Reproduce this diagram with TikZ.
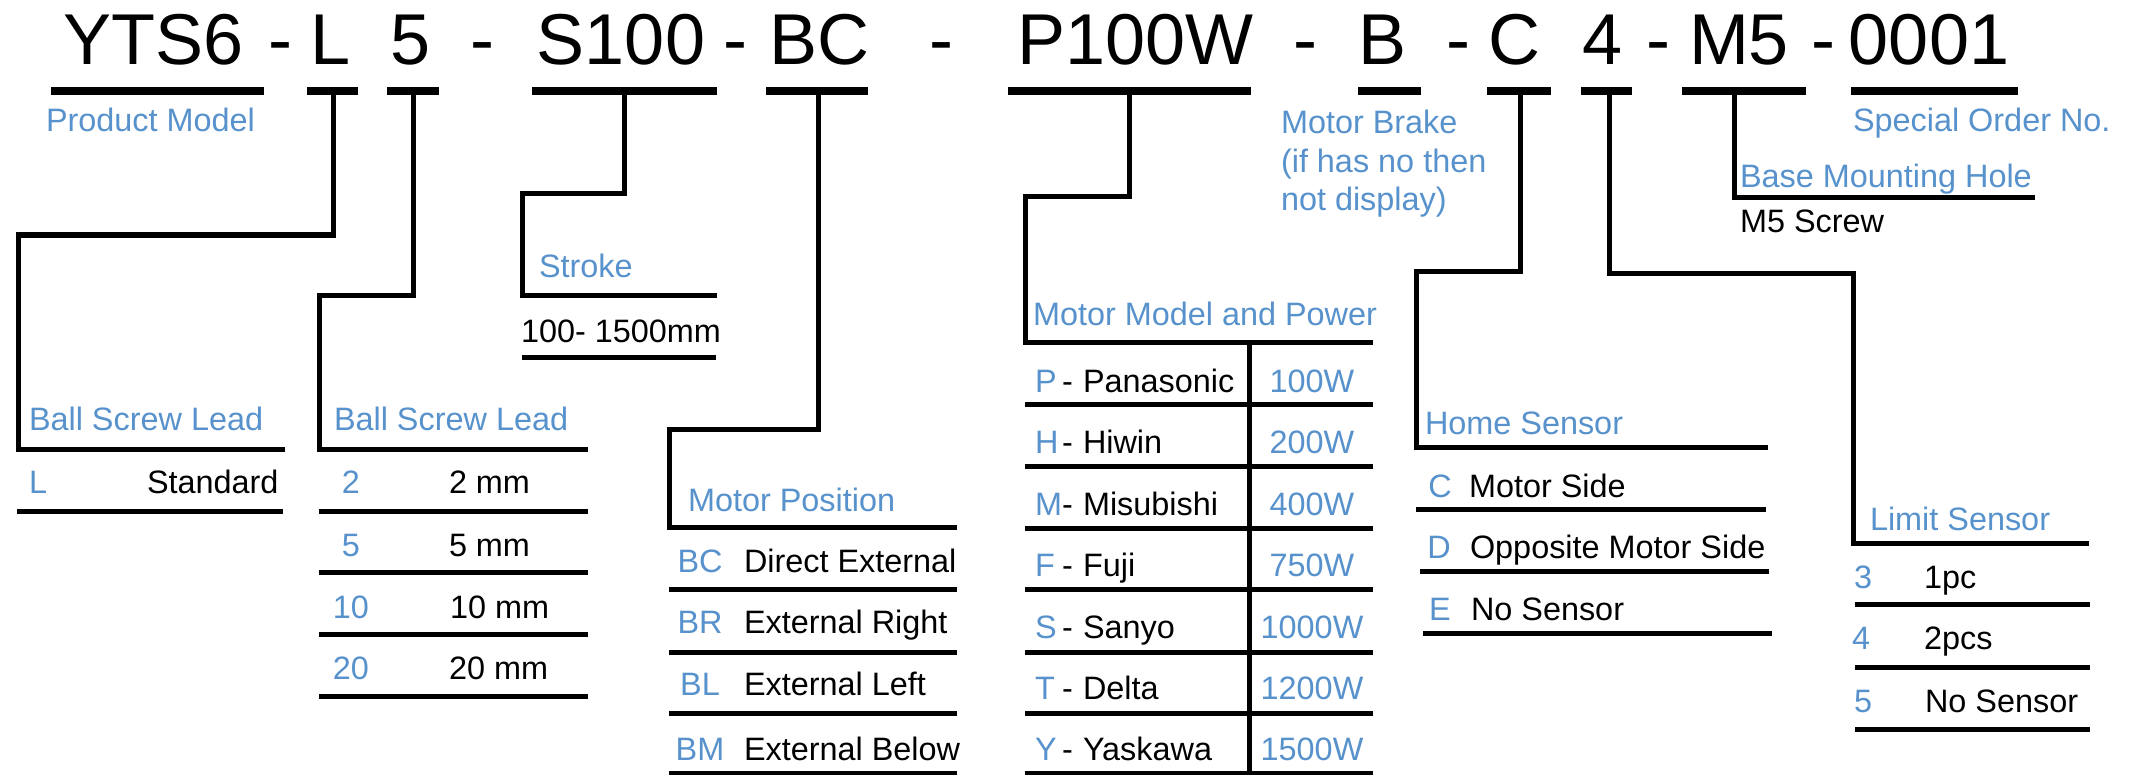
\documentclass[tikz,border=0pt]{standalone}
\usepackage{fontspec}
\setmainfont{Liberation Sans}
\definecolor{lblue}{RGB}{88,146,204}
\begin{document}
\begin{tikzpicture}[x=0.5pt,y=-0.5pt,
  bar/.style={line width=4pt},
  conn/.style={line width=2.5pt,line join=miter},
  rule/.style={line width=2.5pt},
  big/.style={font=\fontsize{36}{40}\selectfont,inner sep=0,outer sep=0,anchor=base},
  hdr/.style={font=\fontsize{16.2}{19}\selectfont,text=lblue,inner sep=0,outer sep=0,anchor=base west},
  codew/.style={font=\fontsize{16.2}{19}\selectfont,text=lblue,inner sep=0,outer sep=0,anchor=base west},
  codec/.style={font=\fontsize{16.2}{19}\selectfont,text=lblue,inner sep=0,outer sep=0,anchor=base},
  txt/.style={font=\fontsize{16.2}{19}\selectfont,text=black,inner sep=0,outer sep=0,anchor=base west}]
\path[use as bounding box,fill=white] (0,0) rectangle (2139,775);

% ---------- title ----------
\node[big] (tY) at (153.5,65) {YTS6};
\node[big] (d1) at (280,65) {-};
\node[big] (tL) at (331,65) {L};
\node[big] (t5) at (411,65) {5};
\node[big] (d2) at (482,65) {-};
\node[big] (tS) at (621,65) {S100};
\node[big] (d3) at (735,65) {-};
\node[big] (tBC) at (819,65) {BC};
\node[big] (d4) at (941,65) {-};
\node[big] (tP) at (1135.5,65) {P100W};
\node[big] (d5) at (1305,65) {-};
\node[big] (tB) at (1382,65) {B};
\node[big] (d6) at (1458,65) {-};
\node[big] (tC) at (1514,65) {C};
\node[big] (t4) at (1602,65) {4};
\node[big] (d7) at (1658,65) {-};
\node[big] (tM) at (1739,65) {M5};
\node[big] (d8) at (1823,65) {-};
\node[big] (t0) at (1929,65) {0001};

% ---------- bars ----------
\draw[bar] (51,91) -- (264,91);
\draw[bar] (307,91) -- (358,91);
\draw[bar] (387,91) -- (439,91);
\draw[bar] (532,91) -- (717,91);
\draw[bar] (766,91) -- (868,91);
\draw[bar] (1008,91) -- (1251,91);
\draw[bar] (1358,91) -- (1421,91);
\draw[bar] (1487,91) -- (1551,91);
\draw[bar] (1581,91) -- (1632,91);
\draw[bar] (1682,91) -- (1806,91);
\draw[bar] (1851,91) -- (2018,91);

\coordinate (bL) at (333,91);
\coordinate (b5) at (413,91);
\coordinate (bS) at (624,91);
\coordinate (bBC) at (818,91);
\coordinate (bP) at (1129,91);
\coordinate (bC) at (1520,91);
\coordinate (b4) at (1609,91);
\coordinate (bM) at (1734,91);

% ---------- free labels ----------
\node[hdr] (pm) at (46,132) {Product Model};
\node[hdr] (so) at (1853,132) {Special Order No.};
\node[hdr] (mb1) at (1281,134) {Motor Brake};
\node[hdr] (mb2) at (1281,173) {(if has no then};
\node[hdr] (mb3) at (1281,211) {not display)};

% ---------- L : ball screw lead ----------
\coordinate (hL) at (285,449);
\draw[conn] (bL) -- (333,235) -- (18,235) -- (18,449) -- (hL);
\node[hdr] (bsl1) at (29,430) {Ball Screw Lead};
\node[codew] (cL) at (29,493) {L};
\node[txt] (vL) at (147,493) {Standard};
\draw[rule] (17,511) -- (283,511);

% ---------- 5 : ball screw lead ----------
\coordinate (h5) at (588,449);
\draw[conn] (b5) -- (413,295) -- (319,295) -- (319,449) -- (h5);
\node[hdr] (bsl2) at (334,430) {Ball Screw Lead};
\node[codec] (c2) at (351,493) {2};
\node[txt] (v2) at (449,493) {2 mm};
\node[codec] (c5) at (351,556) {5};
\node[txt] (v5) at (449,556) {5 mm};
\node[codec] (c10) at (351,618) {10};
\node[txt] (v10) at (450,618) {10 mm};
\node[codec] (c20) at (351,679) {20};
\node[txt] (v20) at (449,679) {20 mm};
\foreach \y in {511,572,634,696} \draw[rule] (319,\y) -- (588,\y);

% ---------- S100 : stroke ----------
\coordinate (hS) at (717,295);
\draw[conn] (bS) -- (624,194) -- (522,194) -- (522,295) -- (hS);
\node[hdr] (st) at (539,278) {Stroke};
\node[txt] (vst) at (521,342) {100- 1500mm};
\draw[rule] (522,357) -- (716,357);

% ---------- BC : motor position ----------
\coordinate (hBC) at (957,527);
\draw[conn] (bBC) -- (818,429) -- (669,429) -- (669,527) -- (hBC);
\node[hdr] (mp) at (688,511) {Motor Position};
\node[codec] (cBC) at (700,572) {BC};
\node[txt] (vBC) at (744,572) {Direct External};
\node[codec] (cBR) at (700,633) {BR};
\node[txt] (vBR) at (744,633) {External Right};
\node[codec] (cBL) at (700,695) {BL};
\node[txt] (vBL) at (744,695) {External Left};
\node[codec] (cBM) at (700,760) {BM};
\node[txt] (vBM) at (744,760) {External Below};
\foreach \y in {589,652,713,773} \draw[rule] (669,\y) -- (957,\y);

% ---------- P100W : motor model and power ----------
\coordinate (hP) at (1373,342);
\draw[conn] (bP) -- (1129,197) -- (1025,197) -- (1025,342) -- (hP);
\node[hdr] (mm) at (1033,325) {Motor Model and Power};
\foreach \y in {404,466,528,589,652,713,773} \draw[rule] (1025,\y) -- (1373,\y);
\draw[rule] (1249,342) -- (1249,775);
\foreach \c/\n/\p/\y [count=\i] in {P/Panasonic/100W/392,H/Hiwin/200W/453,M/Misubishi/400W/515,F/Fuji/750W/576,S/Sanyo/1000W/638,T/Delta/1200W/699,Y/Yaskawa/1500W/760}{
  \node[codew] (mc\i) at (1035,\y) {\c};
  \node[txt] (md\i) at (1062,\y) {-};
  \node[txt] (mn\i) at (1083,\y) {\n};
  \node[codec] (mw\i) at (1312,\y) {\p};
}

% ---------- C : home sensor ----------
\coordinate (hC) at (1768,447);
\draw[conn] (bC) -- (1520,271) -- (1416,271) -- (1416,447) -- (hC);
\node[hdr] (hs) at (1425,434) {Home Sensor};
\node[codec] (cC) at (1440,497) {C};
\node[txt] (vC) at (1469,497) {Motor Side};
\node[codec] (cD) at (1439,558) {D};
\node[txt] (vD) at (1470,558) {Opposite Motor Side};
\node[codec] (cE) at (1440,620) {E};
\node[txt] (vE) at (1471,620) {No Sensor};
\draw[rule] (1416,509) -- (1766,509);
\draw[rule] (1420,571) -- (1769,571);
\draw[rule] (1423,633) -- (1772,633);

% ---------- 4 : limit sensor ----------
\coordinate (h4) at (2089,543);
\draw[conn] (b4) -- (1609,273) -- (1853,273) -- (1853,543) -- (h4);
\node[hdr] (ls) at (1870,530) {Limit Sensor};
\node[codew] (c3) at (1854,588) {3};
\node[txt] (v3) at (1924,588) {1pc};
\node[codew] (c4) at (1852,649) {4};
\node[txt] (v4) at (1924,649) {2pcs};
\node[codew] (c5b) at (1854,712) {5};
\node[txt] (v5b) at (1925,712) {No Sensor};
\foreach \y in {604,667,729} \draw[rule] (1855,\y) -- (2090,\y);

% ---------- M5 : base mounting hole ----------
\coordinate (hM) at (2035,198);
\draw[conn] (bM) -- (1734,198) -- (hM);
\node[hdr] (bmh) at (1740,188) {Base Mounting Hole};
\node[txt] (m5s) at (1740,233) {M5 Screw};
\end{tikzpicture}
\end{document}
